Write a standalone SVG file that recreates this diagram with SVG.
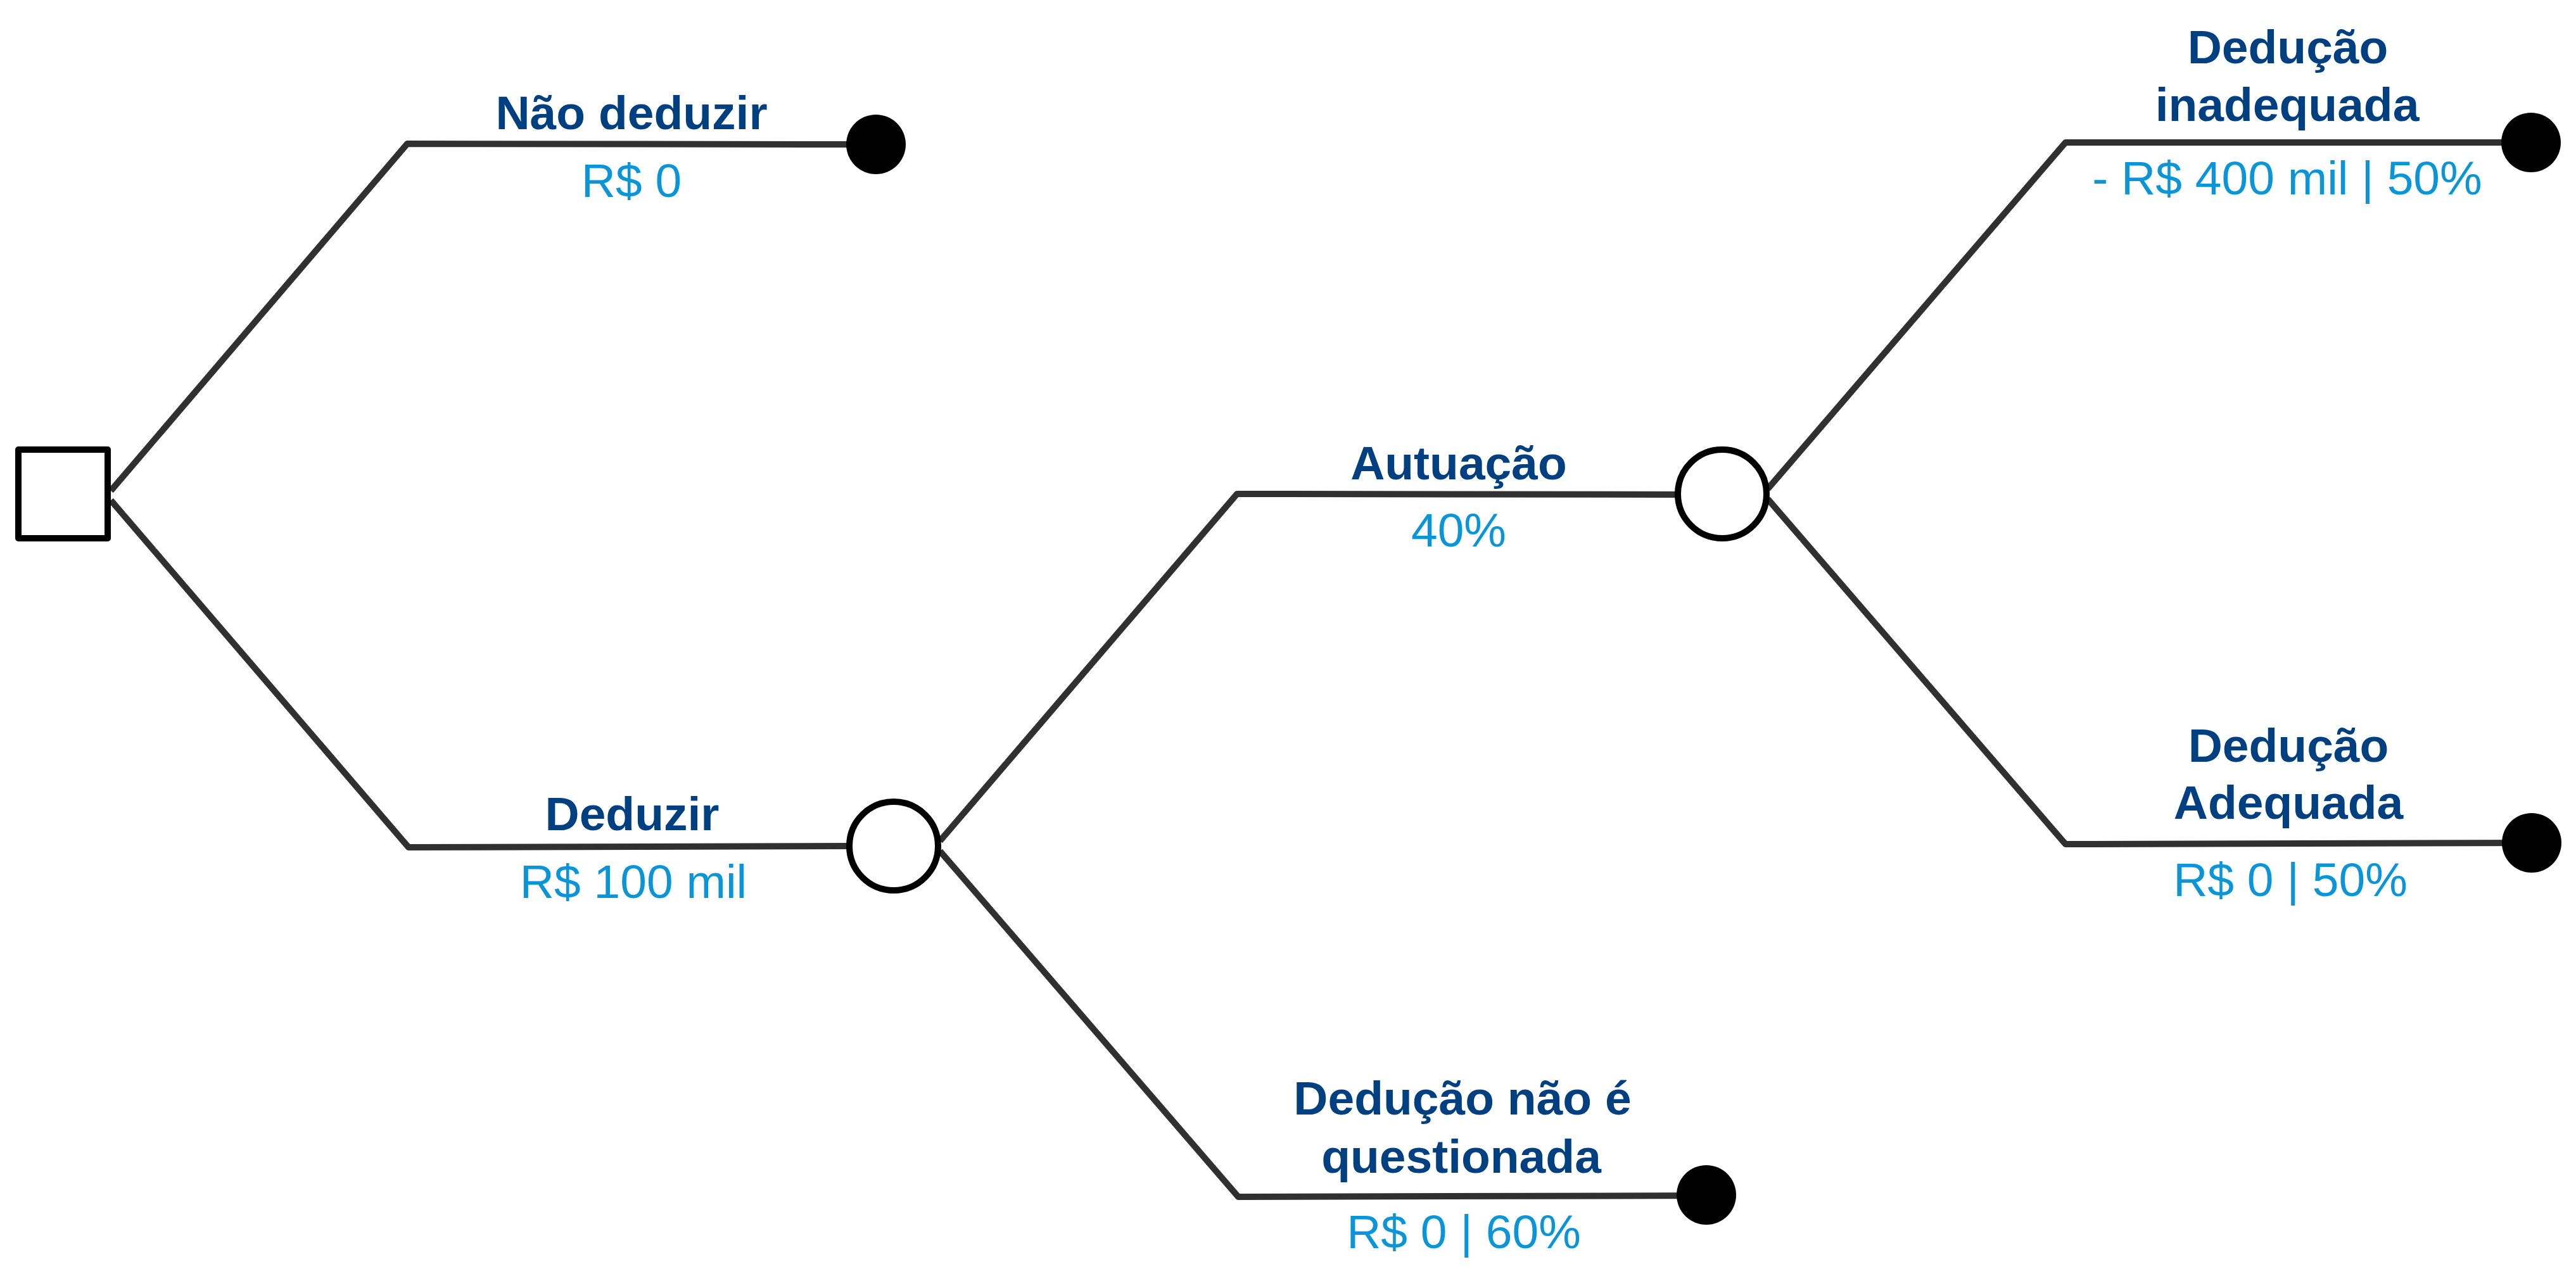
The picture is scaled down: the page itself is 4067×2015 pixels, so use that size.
<svg xmlns="http://www.w3.org/2000/svg" width="4067" height="2015" viewBox="0 0 4067 2015">
<style>
.bg{fill:#ffffff}
.edge{fill:none;stroke:#303030;stroke-width:10;stroke-linejoin:round;stroke-linecap:butt}
.dec{fill:#ffffff;stroke:#000000;stroke-width:10;stroke-linejoin:round}
.chance{fill:#ffffff;stroke:#000000;stroke-width:10}
.end{fill:#000000}
.lbl{font-family:"Liberation Sans",Arial,sans-serif;font-weight:bold;font-size:75px;fill:#003F80;text-anchor:middle}
.val{font-family:"Liberation Sans",Arial,sans-serif;font-size:75px;fill:#0995D8;text-anchor:middle}
</style>
<rect class="bg" x="0" y="0" width="4067" height="2015"/>
<g id="connectors">
<polyline class="edge" points="175,775 643,227 1357,228"/>
<polyline class="edge" points="175,790 645,1338 1345,1336"/>
<polyline class="edge" points="1484,1328 1953,780 2650,781"/>
<polyline class="edge" points="1484,1344 1955,1890 2694,1888"/>
<polyline class="edge" points="2791,772 3261,225 3996,225"/>
<polyline class="edge" points="2791,788 3261,1333 3996,1331"/>
</g>
<g id="labels">
<text class="lbl" x="997" y="204">Não deduzir</text>
<text class="val" x="997" y="311">R$ 0</text>
<text class="lbl" x="998" y="1311">Deduzir</text>
<text class="val" x="1000" y="1418">R$ 100 mil</text>
<text class="lbl" x="2303" y="757">Autuação</text>
<text class="val" x="2303" y="863">40%</text>
<text class="lbl" x="2309" y="1760">Dedução não é</text>
<text class="lbl" x="2307" y="1852">questionada</text>
<text class="val" x="2311" y="1971">R$ 0 | 60%</text>
<text class="lbl" x="3612" y="100">Dedução</text>
<text class="lbl" x="3611" y="191">inadequada</text>
<text class="val" x="3611" y="307">- R$ 400 mil | 50%</text>
<text class="lbl" x="3613" y="1203">Dedução</text>
<text class="lbl" x="3613" y="1293">Adequada</text>
<text class="val" x="3616" y="1415">R$ 0 | 50%</text>
</g>
<g id="decision"><rect class="dec" x="29" y="710" width="141" height="140"/></g>
<g id="chance1"><circle class="chance" cx="1411" cy="1336" r="70"/></g>
<g id="chance2"><circle class="chance" cx="2719" cy="780" r="70"/></g>
<g id="end1"><circle class="end" cx="1383" cy="228" r="47"/></g>
<g id="end2"><circle class="end" cx="2694" cy="1887" r="47"/></g>
<g id="end3"><circle class="end" cx="3996" cy="225" r="47"/></g>
<g id="end4"><circle class="end" cx="3997" cy="1331" r="47"/></g>
</svg>
